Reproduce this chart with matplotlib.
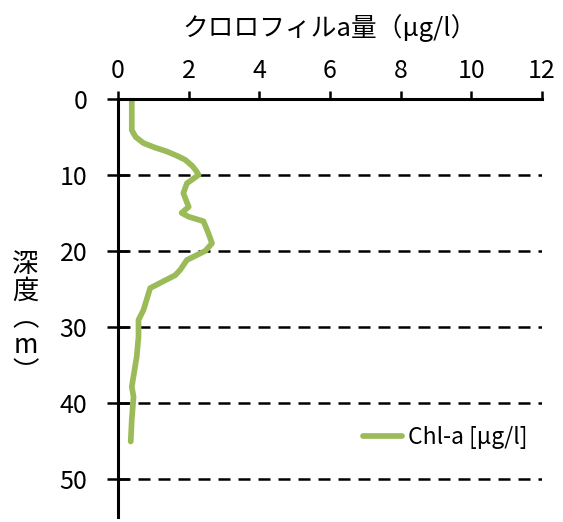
import matplotlib
matplotlib.use("Agg")
import matplotlib.pyplot as plt

plt.rcParams['font.family'] = ['Noto Sans CJK JP', 'DejaVu Sans']

# chlorophyll-a profile
depth = [0, 4.1, 5.0, 5.8, 6.4, 6.9, 7.5, 8.0, 8.8, 9.5, 10.0, 11.1, 12.4, 14.2, 15.0, 15.5,
         16.1, 17.7, 19.0, 20.0, 21.2, 22.5, 23.2, 24.9, 27.8, 29.1, 31.3, 33.9, 37.9, 39.2,
         42.2, 45.1]
chl = [0.39, 0.39, 0.50, 0.72, 1.05, 1.38, 1.68, 1.90, 2.10, 2.22, 2.28, 1.95, 1.85, 2.00,
       1.80, 2.00, 2.42, 2.56, 2.66, 2.47, 1.95, 1.76, 1.62, 0.91, 0.72, 0.58, 0.58, 0.53,
       0.39, 0.44, 0.39, 0.36]

x_ticks = [0, 2, 4, 6, 8, 10, 12]
y_ticks = [0, 10, 20, 30, 40, 50]

fig = plt.figure(figsize=(5.63, 5.22), dpi=100)
ax = fig.add_axes([0.2096, 0.0102, 0.7531, 0.8001])

ax.plot(chl, depth, color="#9BBB59", linewidth=4.1, solid_capstyle="round",
        solid_joinstyle="round", label="Chl-a [μg/l]")

ax.set_xlim(0, 12)
ax.set_ylim(55, 0)
ax.set_xticks(x_ticks)
ax.set_yticks(y_ticks)
ax.xaxis.tick_top()
ax.xaxis.set_label_position("top")

for s in ["right", "bottom"]:
    ax.spines[s].set_visible(False)
for s in ["top", "left"]:
    ax.spines[s].set_linewidth(2.2)
    ax.spines[s].set_color("black")

ax.tick_params(axis="x", direction="out", length=6, width=1.8, labelsize=18, pad=5)
ax.tick_params(axis="y", direction="inout", length=16, width=1.8, labelsize=18, pad=14)

ax.yaxis.grid(True, color="black", linestyle=(0, (4.8, 3.2)), linewidth=1.8)
ax.set_axisbelow(True)

ax.set_xlabel("クロロフィルa量（μg/l）", fontsize=18.5, labelpad=16)

fig.text(0.045, 0.39, "深\n度\n︵\nm\n︶", fontsize=19, ha="center", va="center",
         linespacing=1.0)

ax.legend(loc="center left", bbox_to_anchor=(0.53, 0.19), frameon=False, fontsize=16.5,
          handlelength=1.7, handletextpad=0.25)

fig.savefig("out.png", dpi=100)
